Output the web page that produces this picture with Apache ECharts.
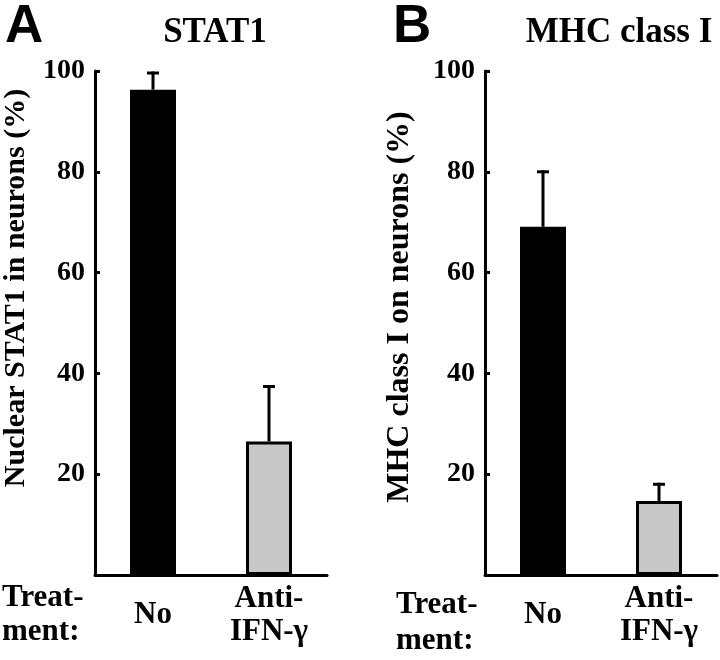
<!DOCTYPE html>
<html>
<head>
<meta charset="utf-8">
<script src="https://cdn.jsdelivr.net/npm/echarts@6/dist/echarts.min.js"></script>
<style>html,body{margin:0;padding:0;background:#fff}#c{width:720px;height:660px}</style>
</head>
<body>
<div id="c"></div>
<script>
const categories = ['No', 'Anti-\nIFN-γ'];
const stat1Means = [96.3, 26.5];
const stat1Errors = [3.3, 10.9];
const mhcMeans = [69.1, 14.7];
const mhcErrors = [10.9, 3.3];
const yTicks = [0, 20, 40, 60, 80, 100];
const panelTitles = ['STAT1', 'MHC class I'];
const panelLetters = ['A', 'B'];
const yNames = ['Nuclear STAT1 in neurons (%)', 'MHC class I on neurons (%)'];

const SERIF = '"Liberation Serif", "Times New Roman", serif';
const chart = echarts.init(document.getElementById('c'), null, {renderer: 'canvas'});

function barData(means) {
  return means.map((v, i) => ({
    value: v,
    itemStyle: i === 0
      ? {color: '#000', borderColor: '#000', borderWidth: 3}
      : {color: '#c8c8c8', borderColor: '#000', borderWidth: 3}
  }));
}
function errData(means, errs) {
  return means.map((m, i) => [i, m, errs[i]]);
}
function renderErr(params, api) {
  const x = api.value(0), m = api.value(1), e = api.value(2);
  const base = api.coord([x, m]);
  const top = api.coord([x, m + e]);
  const hw = 6;
  return {
    type: 'group',
    children: [
      {type: 'line', shape: {x1: base[0], y1: base[1], x2: top[0], y2: top[1] - 1.5}, style: {stroke: '#000', lineWidth: 3}},
      {type: 'line', shape: {x1: top[0] - hw, y1: top[1], x2: top[0] + hw, y2: top[1]}, style: {stroke: '#000', lineWidth: 3}}
    ]
  };
}

const grids = [
  {left: 95, top: 71, width: 232, height: 504},
  {left: 485, top: 71, width: 232, height: 504}
];

function yAxis(gi, name, size, gap, shift) {
  return {
    type: 'value', gridIndex: gi, min: yTicks[0], max: yTicks[yTicks.length - 1], interval: 20,
    splitLine: {show: false},
    axisLine: {show: true, lineStyle: {color: '#000', width: 3}},
    axisTick: {show: true, inside: true, length: 5, lineStyle: {color: '#000', width: 3}},
    axisLabel: {
      color: '#000', fontFamily: SERIF, fontWeight: 'bold', fontSize: 28, margin: 10,
      formatter: v => (v === 0 ? '' : String(v))
    },
    name: name, nameLocation: 'middle', nameGap: gap,
    nameTextStyle: {color: '#000', fontFamily: SERIF, fontWeight: 'bold', fontSize: size, padding: [0, 0, 0, shift]}
  };
}
function xAxis(gi) {
  return {
    type: 'category', gridIndex: gi, data: categories,
    axisLine: {show: true, lineStyle: {color: '#000', width: 3}},
    axisTick: {show: false},
    axisLabel: {
      color: '#000', fontFamily: SERIF, fontWeight: 'bold', fontSize: 31, lineHeight: 33,
      verticalAlign: 'middle', margin: 40, interval: 0
    }
  };
}

const option = {
  backgroundColor: '#fff',
  animation: false,
  title: [
    {text: panelLetters[0], left: 0, top: -4, textStyle: {fontFamily: '"Liberation Sans", Arial, sans-serif', fontWeight: 'bold', fontSize: 53, color: '#000'}},
    {text: panelLetters[1], left: 388, top: -4, textStyle: {fontFamily: '"Liberation Sans", Arial, sans-serif', fontWeight: 'bold', fontSize: 53, color: '#000'}},
    {text: panelTitles[0], left: 210, textAlign: 'center', top: 10, textStyle: {fontFamily: SERIF, fontWeight: 'bold', fontSize: 35, color: '#000'}},
    {text: panelTitles[1], left: 614, textAlign: 'center', top: 10, textStyle: {fontFamily: SERIF, fontWeight: 'bold', fontSize: 35, color: '#000'}}
  ],
  grid: grids,
  xAxis: [xAxis(0), xAxis(1)],
  yAxis: [yAxis(0, yNames[0], 30, 64, 70), yAxis(1, yNames[1], 32, 69, 32)],
  graphic: [
    {type: 'text', left: 2, top: 581, style: {text: 'Treat-\nment:', font: 'bold 31px ' + SERIF, lineHeight: 34, fill: '#000'}},
    {type: 'text', left: 396, top: 587, style: {text: 'Treat-\nment:', font: 'bold 31px ' + SERIF, lineHeight: 36, fill: '#000'}}
  ],
  series: [
    {type: 'bar', xAxisIndex: 0, yAxisIndex: 0, data: barData(stat1Means), barWidth: 46, z: 2},
    {type: 'bar', xAxisIndex: 1, yAxisIndex: 1, data: barData(mhcMeans), barWidth: 46, z: 2},
    {type: 'custom', xAxisIndex: 0, yAxisIndex: 0, data: errData(stat1Means, stat1Errors), renderItem: renderErr, z: 3},
    {type: 'custom', xAxisIndex: 1, yAxisIndex: 1, data: errData(mhcMeans, mhcErrors), renderItem: renderErr, z: 3}
  ]
};
chart.setOption(option);
</script>
</body>
</html>
